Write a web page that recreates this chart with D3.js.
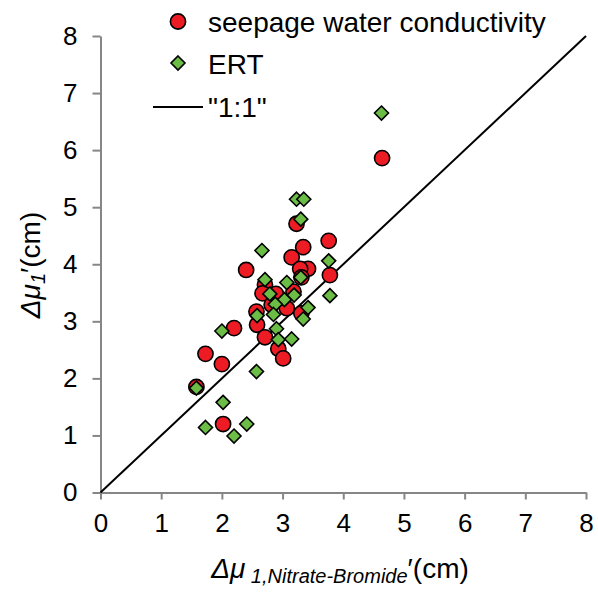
<!DOCTYPE html>
<html>
<head>
<meta charset="utf-8">
<script src="https://cdn.jsdelivr.net/npm/d3@7"></script>
<style>
  html, body { margin: 0; padding: 0; background: #fff; }
  svg { display: block; font-family: "Liberation Sans", Arial, sans-serif; }
</style>
</head>
<body>
<svg id="chart" width="598" height="597"></svg>
<script>
// Seepage water conductivity estimates vs. nitrate-bromide reference (cm)
const seepageX = [4.64, 3.23, 3.34, 3.76, 3.15, 2.40, 3.42, 3.29, 3.78, 3.31, 2.71, 2.67, 2.89, 3.18,
                  2.57, 2.82, 3.07, 3.31, 2.58, 2.20, 2.71, 2.93, 3.01, 1.73, 2.00, 1.58, 2.02];
const seepageY = [5.86, 4.71, 4.30, 4.41, 4.12, 3.90, 3.92, 3.92, 3.81, 3.77, 3.64, 3.49, 3.48, 3.52,
                  3.17, 3.29, 3.23, 3.14, 2.94, 2.88, 2.72, 2.52, 2.35, 2.43, 2.25, 1.85, 1.20];

// ERT estimates vs. nitrate-bromide reference (cm)
const ertX = [4.63, 3.23, 3.35, 3.30, 2.66, 3.76, 3.30, 2.71, 3.07, 2.79, 3.19, 3.78, 3.03, 2.88,
              3.42, 2.85, 2.58, 3.34, 2.00, 2.90, 2.93, 3.15, 2.57, 1.58, 2.02, 1.73, 2.41, 2.20];
const ertY = [6.65, 5.14, 5.14, 4.79, 4.24, 4.06, 3.77, 3.73, 3.68, 3.48, 3.46, 3.45, 3.38, 3.30,
              3.24, 3.12, 3.10, 3.04, 2.83, 2.87, 2.68, 2.69, 2.12, 1.83, 1.58, 1.14, 1.20, 0.99];

// 1:1 reference line endpoints and tick values
const oneToOne = [0, 8];
const xTicks = [0, 1, 2, 3, 4, 5, 6, 7, 8];
const yTicks = [0, 1, 2, 3, 4, 5, 6, 7, 8];

const seriesNames = ["seepage water conductivity", "ERT", "\"1:1\""];

const svg = d3.select("#chart");
const x = d3.scaleLinear().domain([0, 8]).range([100.5, 586]);
const y = d3.scaleLinear().domain([0, 8]).range([492.5, 36]);

const axisColor = "#868686";
const red = "#ED1C24";
const green = "#6BBD45";

// Axes
const xAxis = svg.append("g").attr("transform", `translate(0,${y(0)})`)
  .call(d3.axisBottom(x).tickValues(xTicks).tickSize(7).tickSizeOuter(0).tickPadding(14).tickFormat(d3.format("d")));
const yAxis = svg.append("g").attr("transform", `translate(${x(0)},0)`)
  .call(d3.axisLeft(y).tickValues(yTicks).tickSize(8).tickSizeOuter(0).tickPadding(15).tickFormat(d3.format("d")));
[xAxis, yAxis].forEach(g => {
  g.select(".domain").attr("stroke", axisColor).attr("stroke-width", 2);
  g.selectAll(".tick line").attr("stroke", axisColor).attr("stroke-width", 2);
  g.selectAll(".tick text").attr("fill", "#000").style("font-size", "26px");
});

// 1:1 line
svg.append("line")
  .attr("x1", x(oneToOne[0])).attr("y1", y(oneToOne[0]))
  .attr("x2", x(oneToOne[1])).attr("y2", y(oneToOne[1]))
  .attr("stroke", "#000").attr("stroke-width", 2);

// Seepage water conductivity circles
svg.append("g").selectAll("circle")
  .data(d3.zip(seepageX, seepageY))
  .join("circle")
  .attr("cx", d => x(d[0])).attr("cy", d => y(d[1]))
  .attr("r", 7.6)
  .attr("fill", red).attr("stroke", "#000").attr("stroke-width", 1.6);

// ERT diamonds
const diamond = (cx, cy, s) => `M${cx},${cy - s}L${cx + s},${cy}L${cx},${cy + s}L${cx - s},${cy}Z`;
svg.append("g").selectAll("path")
  .data(d3.zip(ertX, ertY))
  .join("path")
  .attr("d", d => diamond(x(d[0]), y(d[1]), 7))
  .attr("fill", green).attr("stroke", "#000").attr("stroke-width", 1.6);

// Legend
const legend = svg.append("g");
legend.append("circle").attr("cx", 178).attr("cy", 21.5).attr("r", 7.6)
  .attr("fill", red).attr("stroke", "#000").attr("stroke-width", 1.6);
legend.append("path").attr("d", diamond(178, 63, 7))
  .attr("fill", green).attr("stroke", "#000").attr("stroke-width", 1.6);
legend.append("line").attr("x1", 153).attr("x2", 203).attr("y1", 107).attr("y2", 107)
  .attr("stroke", "#000").attr("stroke-width", 2);
const legY = [32, 74, 117];
legend.selectAll("text").data(seriesNames).join("text")
  .attr("x", 208).attr("y", (d, i) => legY[i])
  .style("font-size", "28px").attr("fill", "#000")
  .text(d => d);

// X axis title
const xt = svg.append("text").attr("x", 340).attr("y", 578).attr("text-anchor", "middle")
  .style("font-size", "28px").attr("fill", "#000");
xt.append("tspan").style("font-style", "italic").text("Δμ");
xt.append("tspan").style("font-style", "italic").style("font-size", "20px").attr("dy", 5).text(" 1,Nitrate-Bromide");
xt.append("tspan").attr("dy", -5).text("′(cm)");

// Y axis title
const yt = svg.append("text").attr("transform", "translate(40,265) rotate(-90)").attr("text-anchor", "middle")
  .style("font-size", "28px").attr("fill", "#000");
yt.append("tspan").style("font-style", "italic").text("Δμ");
yt.append("tspan").style("font-style", "italic").style("font-size", "20px").attr("dy", 5).text("1");
yt.append("tspan").attr("dy", -5).text("′(cm)");
</script>
</body>
</html>
